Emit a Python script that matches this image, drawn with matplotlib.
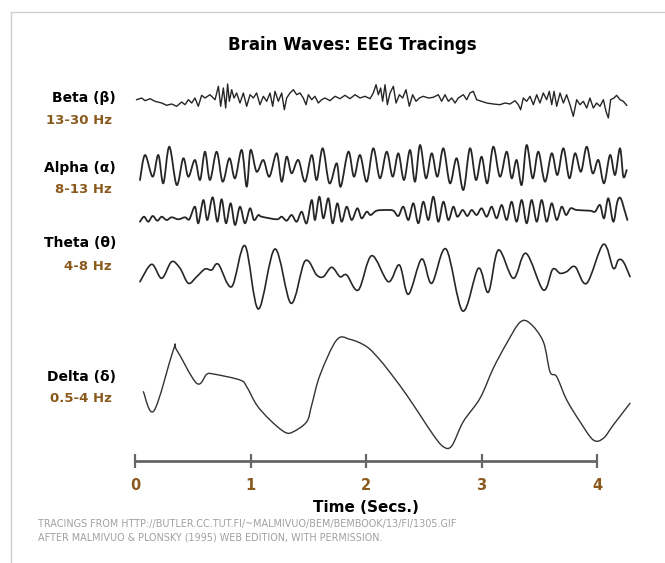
import matplotlib
matplotlib.use("Agg")
import matplotlib.pyplot as plt
from matplotlib.path import Path
from matplotlib.patches import PathPatch

# EEG tracings: time (s) and amplitude (arbitrary units, up = positive)
beta_t = [0.014, 0.058, 0.087, 0.130, 0.173, 0.231, 0.274, 0.317, 0.361, 0.404, 0.433, 0.462,
          0.491, 0.519, 0.548, 0.577, 0.606, 0.649, 0.693, 0.722, 0.742, 0.765, 0.785, 0.802,
          0.817, 0.837, 0.857, 0.880, 0.909, 0.938, 0.967, 0.996, 1.025, 1.053, 1.082, 1.111,
          1.140, 1.169, 1.192, 1.212, 1.241, 1.270, 1.293, 1.313, 1.342, 1.371, 1.400, 1.429,
          1.457, 1.481, 1.501, 1.530, 1.558, 1.587, 1.616, 1.645, 1.688, 1.732, 1.775, 1.818,
          1.861, 1.905, 1.948, 1.991, 2.035, 2.063, 2.087, 2.107, 2.127, 2.144, 2.165, 2.185,
          2.208, 2.237, 2.260, 2.289, 2.317, 2.346, 2.375, 2.404, 2.433, 2.462, 2.496, 2.540,
          2.583, 2.626, 2.655, 2.684, 2.713, 2.742, 2.771, 2.799, 2.843, 2.872, 2.900, 2.929,
          2.958, 3.001, 3.045, 3.102, 3.160, 3.203, 3.247, 3.290, 3.319, 3.339, 3.362, 3.391,
          3.420, 3.449, 3.478, 3.506, 3.535, 3.564, 3.587, 3.608, 3.628, 3.651, 3.680, 3.709,
          3.737, 3.766, 3.795, 3.824, 3.853, 3.882, 3.911, 3.939, 3.968, 3.997, 4.026, 4.055,
          4.078, 4.098, 4.118, 4.147, 4.170, 4.199, 4.228, 4.257]
beta_v = [-1.7, 0, -2.7, -0.7, -3.3, -5, -7.3, -6, -8.3, -4, -6.7, -1.7,
          -5, 0, -8.3, 2.7, 0, 3.3, -1.7, 11.7, -8.3, 10, -10, 14,
          -3.3, 8.3, 0, 5, -5, 5, -8.3, 3.3, 0, 5, -6.7, 1.7,
          -3.3, 5, -8.3, 6.7, -3.3, 5, -11.7, 0, 5, 8.3, 3.3, 5,
          0, -6.7, 3.3, -1.7, 1.7, -5, -1.7, 0, -2.7, 1.7, -0.7, 2.7,
          -0.7, 3.3, 0, 1.7, -0.7, 5, 13.3, 3.3, 10, -3.3, 13.3, -6.7,
          5, 11.7, -5, 3.3, 0, 8.3, -8.3, 3.3, -3.3, 0, 1.7, 0,
          0.7, 3.3, -3.3, 3.3, -3.3, 0, -5, 0, 3.3, -1.7, 5, 6.7,
          -1.7, -3.3, -5, -6, -6.7, -5, -6, -2.7, -6.7, -11.7, 0, -3.3,
          1.7, -6.7, 3.3, -5, 5, -1.7, 6.7, -6.7, 6.7, -8.3, 5, -5,
          3.3, -6.7, -18.3, -1.7, -6.7, -3.3, -10, 0, -10, -5, -8.3, -1.7,
          -13.3, -20, -1.7, 0, 2.7, -1.7, -3.3, -7.3]

alpha1_t = [0.043, 0.087, 0.153, 0.202, 0.245, 0.297, 0.361, 0.418, 0.462, 0.519, 0.563, 0.606,
            0.649, 0.707, 0.759, 0.817, 0.866, 0.924, 0.967, 1.001, 1.053, 1.111, 1.163, 1.227,
            1.270, 1.313, 1.356, 1.414, 1.472, 1.530, 1.573, 1.625, 1.683, 1.746, 1.781, 1.847,
            1.896, 1.948, 2.006, 2.063, 2.121, 2.179, 2.231, 2.280, 2.329, 2.381, 2.424, 2.468,
            2.519, 2.569, 2.618, 2.670, 2.727, 2.785, 2.843, 2.900, 2.952, 3.001, 3.050, 3.102,
            3.160, 3.218, 3.261, 3.304, 3.348, 3.391, 3.443, 3.492, 3.550, 3.608, 3.657, 3.709,
            3.761, 3.810, 3.861, 3.911, 3.962, 4.012, 4.061, 4.113, 4.156, 4.199, 4.228, 4.257]
alpha1_v = [-12, 13, -8.7, 13, -15.3, 21.3, -17, 9.7, -8.7, 8, -12, 16.3,
            -12, 16.3, -13.7, 9.7, -10.3, 18, -18.7, 18, -3.7, 8, -8.7, 14.7,
            -13.7, 11.3, -5.3, 8, -13.7, 13, -12, 19.7, -15.3, 4.7, -18.7, 16.3,
            -8.7, 13, -13.7, 19.7, -10.3, 16.3, -8.7, 14.7, -12, 18, -13.7, 23,
            -10.3, 14.7, -8.7, 19.7, -15.3, 9.7, -22, 19.7, -12, 11.3, -15.3, 21.3,
            -8.7, 16.3, -10.3, 8, -17, 23, -10.3, 16.3, -13.7, 14.7, -7, 19.7,
            -10.3, 14.7, -3.7, 21.3, -5.3, 8, -15.3, 13, -7, 19.7, -8.7, -2]

alpha2_t = [0.043, 0.078, 0.115, 0.153, 0.193, 0.231, 0.274, 0.317, 0.375, 0.433, 0.470, 0.519,
            0.548, 0.592, 0.626, 0.672, 0.713, 0.750, 0.788, 0.828, 0.866, 0.909, 0.952, 0.996,
            1.030, 1.068, 1.097, 1.227, 1.270, 1.313, 1.356, 1.400, 1.443, 1.486, 1.530, 1.558,
            1.596, 1.631, 1.674, 1.711, 1.752, 1.789, 1.833, 1.876, 1.925, 1.962, 2.006, 2.040,
            2.092, 2.179, 2.237, 2.280, 2.323, 2.367, 2.410, 2.453, 2.496, 2.540, 2.583, 2.626,
            2.670, 2.713, 2.756, 2.791, 2.837, 2.877, 2.915, 2.958, 3.001, 3.045, 3.088, 3.131,
            3.175, 3.218, 3.261, 3.304, 3.348, 3.391, 3.434, 3.478, 3.521, 3.564, 3.608, 3.651,
            3.694, 3.732, 3.772, 3.824, 3.939, 3.983, 4.026, 4.061, 4.098, 4.141, 4.176, 4.205,
            4.242, 4.263]
alpha2_v = [-13.7, -8.7, -13.7, -8, -12.7, -8.7, -12, -9.3, -11.3, -9.3, -11.3, 1.3,
            -15.3, 8, -12, 10.7, -13.7, 8.7, -15.3, 4.7, -17, 1.3, -15.3, -0.3,
            -12, -7, -8.7, -11.3, -8.7, -12.7, -7, -13.7, -3.7, -15.3, 8, -12,
            11.3, -10.3, 9.7, -15.3, 4.7, -13.7, 1.3, -12, -0.3, -10.3, -3.7, -7,
            -2.7, -2, -2.7, -8, 1.3, -12, 4.7, -15.3, 6.3, -12, 11.3, -13.7,
            6.3, -12, 1.3, -8.7, -2, -8, -2, -7, -0.3, -8.7, 1.3, -10.3,
            3, -12, 6.3, -13.7, 8, -15.3, 8, -13.7, 8, -13.7, 4.7, -12,
            1.3, -7, -0.3, -2, -2.7, -3.7, 3, -10.3, 9.7, -13.7, 6.3, 9.7,
            -3.7, -12]

theta_t = [0.043, 0.144, 0.231, 0.317, 0.390, 0.462, 0.534, 0.606, 0.664, 0.722, 0.837, 0.952,
           1.068, 1.212, 1.351, 1.472, 1.573, 1.631, 1.703, 1.775, 1.833, 1.934, 2.049, 2.193,
           2.289, 2.367, 2.482, 2.569, 2.693, 2.837, 2.973, 3.059, 3.146, 3.276, 3.385, 3.535,
           3.616, 3.680, 3.737, 3.810, 3.911, 4.055, 4.141, 4.185, 4.228, 4.286]
theta_v = [-6.7, 10.7, -3.3, 13.3, 6.7, -8.3, -1.7, 6, 5, 10.7, -11.7, 29.3,
           -34, 26, -28.3, 14, 0, -1.7, 7.7, -1.7, 0, -15, 19.3, -6.7,
           10, -19.3, 16, -8.3, 26, -36, 6.7, -17.3, 25, -3.3, 21.7, -15,
           5.7, 1.7, 3.3, 8.3, -8.3, 30.7, 6.7, 15, 13.3, -1.7]

delta_t = [0.072, 0.165, 0.332, 0.361, 0.534, 0.621, 0.678, 0.909, 0.967, 1.054, 1.169, 1.299,
           1.371, 1.487, 1.530, 1.602, 1.746, 1.861, 2.006, 2.121, 2.236, 2.352, 2.468, 2.583,
           2.669, 2.742, 2.842, 2.987, 3.102, 3.218, 3.333, 3.420, 3.535, 3.593, 3.651, 3.738,
           3.853, 3.968, 4.055, 4.141, 4.286]
delta_v = [-1.7, -20.7, 40, 40, 6.7, 15.7, 16, 10, 3.3, -15, -30, -42.3,
           -41.7, -31.7, -15, 15, 50, 50.7, 43.3, 30, 13.3, -5, -25, -45,
           -56.7, -56, -31.7, -8.3, 21.7, 46.7, 67.7, 66.7, 48.3, 18.3, 13.3, -10,
           -31.7, -50, -48.3, -35, -13.3]

wave_names = ["Beta (\u03b2)", "Alpha (\u03b1)", "Theta (\u03b8)", "Delta (\u03b4)"]
wave_bands = ["13-30 Hz", "8-13 Hz", "4-8 Hz", "0.5-4 Hz"]
time_ticks = [0, 1, 2, 3, 4]

W, H = 665, 563
BROWN = "#8a5a1c"
TRACE = "#262626"


def smooth_trace(ax, xs, ys, **kw):
    # draw a curve through the points (Catmull-Rom segments as Bezier path)
    pts = list(zip(xs, ys))
    verts = [pts[0]]
    codes = [Path.MOVETO]
    n = len(pts)
    for i in range(n - 1):
        p0 = pts[max(i - 1, 0)]
        p1 = pts[i]
        p2 = pts[i + 1]
        p3 = pts[min(i + 2, n - 1)]
        c1 = (p1[0] + (p2[0] - p0[0]) / 6, p1[1] + (p2[1] - p0[1]) / 6)
        c2 = (p2[0] - (p3[0] - p1[0]) / 6, p2[1] - (p3[1] - p1[1]) / 6)
        verts += [c1, c2, p2]
        codes += [Path.CURVE4] * 3
    ax.add_patch(PathPatch(Path(verts, codes), fill=False, capstyle="round",
                           joinstyle="round", **kw))


fig = plt.figure(figsize=(W / 100, H / 100), dpi=100)
ax = fig.add_axes([0, 0, 1, 1])
# x in seconds (0 s at 135 px, 115.5 px per second), y in pixels from the top
ax.set_xlim(-135 / 115.5, (W - 135) / 115.5)
ax.set_ylim(H, 0)
ax.axis("off")

ax.plot(beta_t, [98 - a for a in beta_v], color=TRACE, lw=1.0, solid_joinstyle="round")
smooth_trace(ax, alpha1_t, [168 - a for a in alpha1_v], edgecolor=TRACE, lw=1.3)
smooth_trace(ax, alpha2_t, [208 - a for a in alpha2_v], edgecolor=TRACE, lw=1.3)
smooth_trace(ax, theta_t, [275 - a for a in theta_v], edgecolor=TRACE, lw=1.2)
smooth_trace(ax, delta_t, [390 - a for a in delta_v], edgecolor="#333333", lw=1.0)

# time axis
ax.plot([time_ticks[0], time_ticks[-1]], [461, 461], color="#666666", lw=2, solid_capstyle="butt")
ax.vlines(time_ticks, 454, 468, color="#666666", lw=1.6)
for tk in time_ticks:
    ax.text(tk, 486, str(tk), color=BROWN, fontsize=10.5, fontweight="bold", ha="center", va="center")
ax.text(2, 507, "Time (Secs.)", fontsize=11, fontweight="bold", ha="center", va="center")


def ftxt(x, y, s, **kw):
    fig.text(x / W, 1 - y / H, s, **kw)


ftxt(352, 45, "Brain Waves: EEG Tracings", fontsize=12, fontweight="bold", ha="center", va="center")
name_y = [98, 168, 243, 377]
band_y = [120, 190, 266, 398]
for name, band, ny, by in zip(wave_names, wave_bands, name_y, band_y):
    ftxt(116, ny, name, fontsize=10, fontweight="bold", ha="right", va="center")
    ftxt(112, by, band, fontsize=9.5, fontweight="bold", color=BROWN, ha="right", va="center")

ftxt(38, 524, "TRACINGS FROM HTTP://BUTLER.CC.TUT.FI/~MALMIVUO/BEM/BEMBOOK/13/FI/1305.GIF",
     fontsize=6.9, color="#a0a0a0", ha="left", va="center")
ftxt(38, 538, "AFTER MALMIVUO & PLONSKY (1995) WEB EDITION, WITH PERMISSION.",
     fontsize=6.9, color="#a0a0a0", ha="left", va="center")

# thin frame on the top and left edges
x_edge = (11 - 135) / 115.5
ax.plot([x_edge, (W - 135) / 115.5], [12, 12], color="#cfcfcf", lw=1)
ax.plot([x_edge, x_edge], [12, H], color="#cfcfcf", lw=1)

fig.savefig("out.png", dpi=100)
